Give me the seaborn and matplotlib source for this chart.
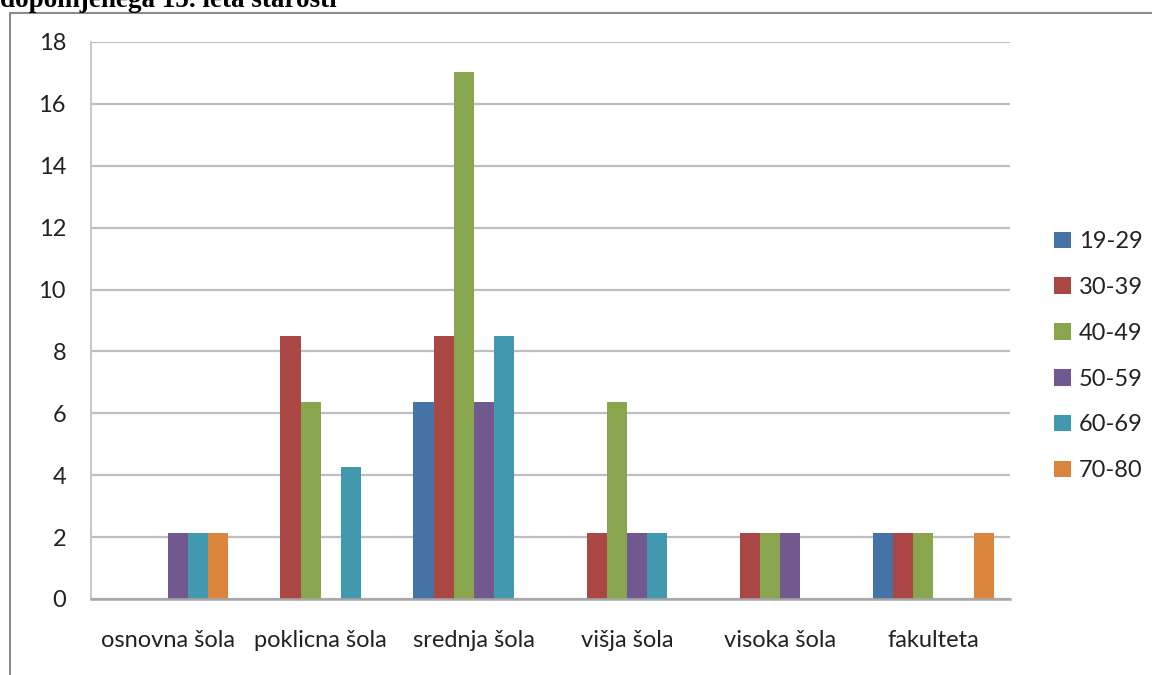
import numpy as np
import pandas as pd
import matplotlib.pyplot as plt
import seaborn as sns

# education levels and age groups
categories = ["osnovna šola", "poklicna šola", "srednja šola", "višja šola", "visoka šola", "fakulteta"]
age_groups = ["19-29", "30-39", "40-49", "50-59", "60-69", "70-80"]

v_19_29 = [0, 0, 6.38, 0, 0, 2.13]
v_30_39 = [0, 8.51, 8.51, 2.13, 2.13, 2.13]
v_40_49 = [0, 6.38, 17.02, 6.38, 2.13, 2.13]
v_50_59 = [2.13, 0, 6.38, 2.13, 2.13, 0]
v_60_69 = [2.13, 4.26, 8.51, 2.13, 0, 0]
v_70_80 = [2.13, 0, 0, 0, 0, 2.13]

colors = ["#4572A7", "#AA4643", "#89A54E", "#71588F", "#4198AF", "#DB843D"]

series = [v_19_29, v_30_39, v_40_49, v_50_59, v_60_69, v_70_80]
rows = []
for age, vals in zip(age_groups, series):
    for cat, v in zip(categories, vals):
        rows.append({"kategorija": cat, "starost": age, "vrednost": v})
df = pd.DataFrame(rows)

sns.set_style("white")
plt.rcParams["font.family"] = ["Lato", "DejaVu Sans"]

fig = plt.figure(figsize=(11.52, 6.75), dpi=100)
ax = fig.add_axes([0.079, 0.1126, 0.7977, 0.8252])

sns.barplot(data=df, x="kategorija", y="vrednost", hue="starost",
            order=categories, hue_order=age_groups, palette=colors,
            width=0.79, linewidth=0, saturation=1, ax=ax, legend=True)

ax.set_ylim(0, 18)
ax.set_xlim(-0.5, 5.5)
ax.set_yticks(np.arange(0, 19, 2))
ax.yaxis.grid(True, color="#BEBEBE", linewidth=1.6)
ax.set_axisbelow(True)
ax.set_xlabel("")
ax.set_ylabel("")

for s in ["top", "right"]:
    ax.spines[s].set_visible(False)
ax.spines["left"].set_color("#BEBEBE")
ax.spines["left"].set_linewidth(1.2)
ax.spines["bottom"].set_color("#A6A6A6")
ax.spines["bottom"].set_linewidth(1.8)

fs = 17
ax.tick_params(axis="y", length=6, width=1.2, color="#BEBEBE", labelsize=fs,
               labelcolor="#222222", pad=12)
ax.tick_params(axis="x", which="major", length=0, labelsize=fs,
               labelcolor="#222222", pad=22)
ax.set_xticks(np.arange(-0.5, 6.0, 1.0), minor=True)
ax.tick_params(axis="x", which="minor", length=7, width=1.2, color="#A6A6A6")

leg = ax.legend(loc="center left", bbox_to_anchor=(1.025, 0.436), frameon=False,
                fontsize=fs, handlelength=0.7, handleheight=0.7,
                handletextpad=0.35, labelspacing=1.05)
for t in leg.get_texts():
    t.set_color("#222222")

# outer chart border
fig.add_artist(plt.Line2D([10 / 1152, 10 / 1152], [0, 1 - 13 / 675],
                          transform=fig.transFigure, color="#8C8C8C", linewidth=1.5))
fig.add_artist(plt.Line2D([10 / 1152, 1], [1 - 13 / 675, 1 - 13 / 675],
                          transform=fig.transFigure, color="#8C8C8C", linewidth=1.5))

# title cut off at top of image
fig.text(0.0, 1 - 7 / 675, "dopolnjenega 15. leta starosti",
         fontsize=19.5, fontweight="bold", family=["Liberation Serif", "DejaVu Serif"],
         va="baseline", ha="left", color="black")

fig.savefig("out.png", dpi=100)
